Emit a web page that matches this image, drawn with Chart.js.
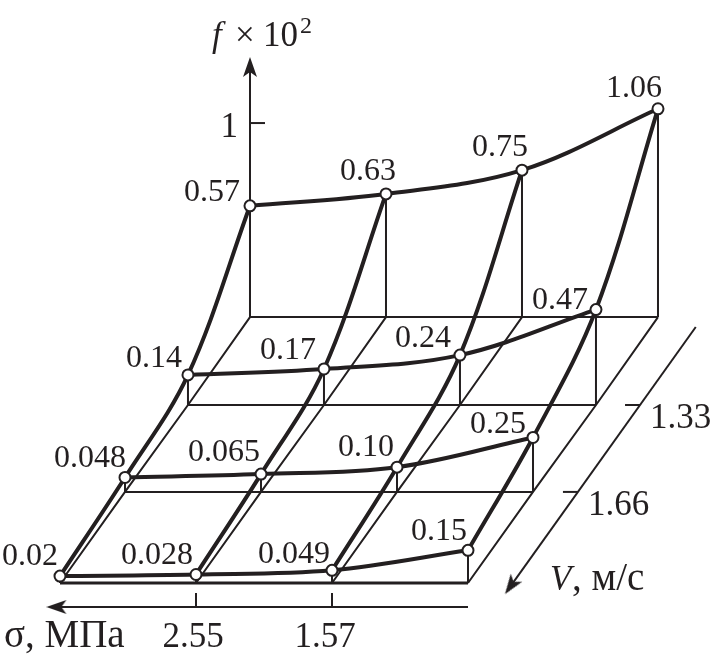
<!DOCTYPE html>
<html>
<head>
<meta charset="utf-8">
<style>
  html, body { margin: 0; padding: 0; background: #fff; }
  canvas { display: block; }
</style>
<script src="https://cdn.jsdelivr.net/npm/chart.js@4"></script>
</head>
<body>
<canvas id="friction-chart" width="711" height="659"></canvas>
<script>
// friction coefficient f x 10^2, one list per speed row, front row first
let fRowFront = [0.02, 0.028, 0.049, 0.15];
let fRow166 = [0.048, 0.065, 0.10, 0.25];
let fRow133 = [0.14, 0.17, 0.24, 0.47];
let fRowBack = [0.57, 0.63, 0.75, 1.06];
let fRows = [fRowFront, fRow166, fRow133, fRowBack];

let fLabelsFront = ["0.02", "0.028", "0.049", "0.15"];
let fLabels166 = ["0.048", "0.065", "0.10", "0.25"];
let fLabels133 = ["0.14", "0.17", "0.24", "0.47"];
let fLabelsBack = ["0.57", "0.63", "0.75", "1.06"];
let fLabels = [fLabelsFront, fLabels166, fLabels133, fLabelsBack];

let sigmaTicks = ["2.55", "1.57"];
let speedTicks = ["1.66", "1.33"];

// oblique projection of the base plane, in axis units
let rowShift = [0, 0.478, 0.941, 1.397];
let rowRise = [0, 0.46, 0.899, 1.343];
let rowLift = [0.015, 0.025, 0.012, -0.008];

// label nudges in px from its marker, right aligned
let labelNudge = [
    [[-2, -11], [-3, -10], [-2, -7], [-1, -10]],
    [[1, -10], [-1, -13], [-3, -11], [-7, -4]],
    [[-6, -8], [-8, -10], [-9, -8], [-8, -1]],
    [[-10, -5], [10, -14], [6, -14], [4, -12]]
];

const INK = "#231f20";
const PX_X = 136;
const PX_Y = 198;
const LEFT = 60;
const BASE = 583;

function ground(col, row) {
    return { x: col + rowShift[row], y: rowRise[row] };
}

function surface(col, row) {
    return { x: col + rowShift[row], y: rowRise[row] + rowLift[row] + fRows[row][col] };
}

function thin(points, width) {
    return {
        data: points,
        showLine: true,
        borderColor: INK,
        borderWidth: width || 2,
        pointRadius: 0,
        order: 5
    };
}

function curve(points) {
    return {
        data: points,
        showLine: true,
        borderColor: INK,
        borderWidth: 4,
        tension: 0.35,
        pointRadius: 0,
        order: 3
    };
}

function arrowHead() {
    let c = document.createElement("canvas");
    c.width = 26;
    c.height = 26;
    let g = c.getContext("2d");
    g.fillStyle = INK;
    g.beginPath();
    g.moveTo(13, 0);
    g.lineTo(20, 20);
    g.lineTo(13, 15);
    g.lineTo(6, 20);
    g.closePath();
    g.fill();
    return c;
}

function buildDatasets() {
    let sets = [];
    let cols = [0, 1, 2, 3];
    let rows = [0, 1, 2, 3];

    // base grid
    rows.forEach(r => {
        sets.push(thin([ground(0, r), ground(3, r)], r == 0 ? 3 : 2));
    });
    cols.forEach(c => {
        sets.push(thin(rows.map(r => ground(c, r))));
    });

    // drop lines from each node to the base
    rows.forEach(r => {
        cols.forEach(c => {
            sets.push(thin([surface(c, r), ground(c, r)]));
        });
    });

    // surface curves
    rows.forEach(r => {
        sets.push(curve(cols.map(c => surface(c, r))));
    });
    cols.forEach(c => {
        sets.push(curve(rows.map(r => surface(c, r))));
    });

    // nodes
    let nodes = [];
    rows.forEach(r => {
        cols.forEach(c => nodes.push(surface(c, r)));
    });
    sets.push({
        data: nodes,
        showLine: false,
        pointRadius: 5.5,
        pointBackgroundColor: "#fff",
        pointBorderColor: INK,
        pointBorderWidth: 2,
        order: 1
    });

    // f axis
    let axisTop = 526 / PX_Y;
    sets.push(thin([{ x: rowShift[3], y: rowRise[3] }, { x: rowShift[3], y: axisTop - 0.06 }]));
    sets.push(thin([{ x: rowShift[3], y: rowRise[3] + 0.98 }, { x: rowShift[3] + 15 / PX_X, y: rowRise[3] + 0.98 }]));

    // sigma axis
    let sigmaLevel = -24 / PX_Y;
    sets.push(thin([{ x: 3, y: sigmaLevel }, { x: -0.05, y: sigmaLevel }]));
    [1, 2].forEach(c => {
        sets.push(thin([{ x: c, y: -10 / PX_Y }, { x: c, y: sigmaLevel }]));
    });

    // speed axis, parallel to the right edge of the base
    let speedX = d => 3.33 + d * 1.04;
    sets.push(thin([{ x: speedX(1.293), y: 1.293 }, { x: speedX(-0.04), y: -0.04 }]));
    [1, 2].forEach(r => {
        let d = rowRise[r];
        sets.push(thin([{ x: speedX(d), y: d }, { x: speedX(d) - 15 / PX_X, y: d }]));
    });

    // arrow heads
    let head = arrowHead();
    [
        { x: rowShift[3], y: axisTop - 13 / PX_Y, rot: 0 },
        { x: -0.1 + 13 / PX_X, y: sigmaLevel, rot: -90 },
        { x: speedX(-0.056) + 7.5 / PX_X, y: -0.056 + 10.6 / PX_Y, rot: 215 }
    ].forEach(a => {
        sets.push({
            data: [{ x: a.x, y: a.y }],
            showLine: false,
            pointStyle: head,
            pointRotation: a.rot,
            order: 2
        });
    });

    return sets;
}

function put(ctx, text, x, y, font, align) {
    ctx.font = font;
    ctx.textAlign = align || "left";
    ctx.fillText(text, x, y);
}

let textPlugin = {
    id: "plotText",
    afterDatasetsDraw(chart) {
        let ctx = chart.ctx;
        let sx = chart.scales.x;
        let sy = chart.scales.y;
        let small = "32px 'Liberation Serif'";
        let big = "35px 'Liberation Serif'";
        let wide = "39px 'Liberation Serif'";
        let slanted = "italic 35px 'Liberation Serif'";

        ctx.save();
        ctx.fillStyle = INK;
        ctx.textBaseline = "alphabetic";

        // node values
        fLabels.forEach((row, r) => {
            row.forEach((text, c) => {
                let p = surface(c, r);
                let n = labelNudge[r][c];
                put(ctx, text, sx.getPixelForValue(p.x) + n[0], sy.getPixelForValue(p.y) + n[1], small, "right");
            });
        });

        // sigma axis
        let sigmaBase = sy.getPixelForValue(-64 / PX_Y);
        put(ctx, "σ, МПа", 4, sigmaBase, wide);
        put(ctx, sigmaTicks[0], sx.getPixelForValue(1) - 3, sigmaBase, big, "center");
        put(ctx, sigmaTicks[1], sx.getPixelForValue(2) - 7, sigmaBase, big, "center");

        // speed axis
        let speedX = d => 3.33 + d * 1.04;
        [1, 2].forEach((r, i) => {
            put(ctx, speedTicks[i], sx.getPixelForValue(speedX(rowRise[r])) + 10, sy.getPixelForValue(rowRise[r]) + 23, big);
        });
        put(ctx, "V", 550, 590, slanted);
        put(ctx, ", м/с", 572, 590, wide);

        // f axis
        put(ctx, "1", 238, 137, big, "right");
        put(ctx, "f", 212, 46, slanted);
        put(ctx, "×", 235, 46, big);
        put(ctx, "10", 263, 46, big);
        put(ctx, "2", 300, 33, "24px 'Liberation Serif'");
        ctx.restore();
    }
};

let ctx = document.getElementById("friction-chart").getContext("2d");
new Chart(ctx, {
    type: "scatter",
    data: { datasets: buildDatasets() },
    options: {
        responsive: false,
        animation: false,
        layout: { padding: 0, autoPadding: false },
        plugins: { legend: { display: false }, tooltip: { enabled: false } },
        scales: {
            x: { display: false, min: -LEFT / PX_X, max: (711 - LEFT) / PX_X },
            y: { display: false, min: -(659 - BASE) / PX_Y, max: BASE / PX_Y }
        }
    },
    plugins: [textPlugin]
});
</script>
</body>
</html>
